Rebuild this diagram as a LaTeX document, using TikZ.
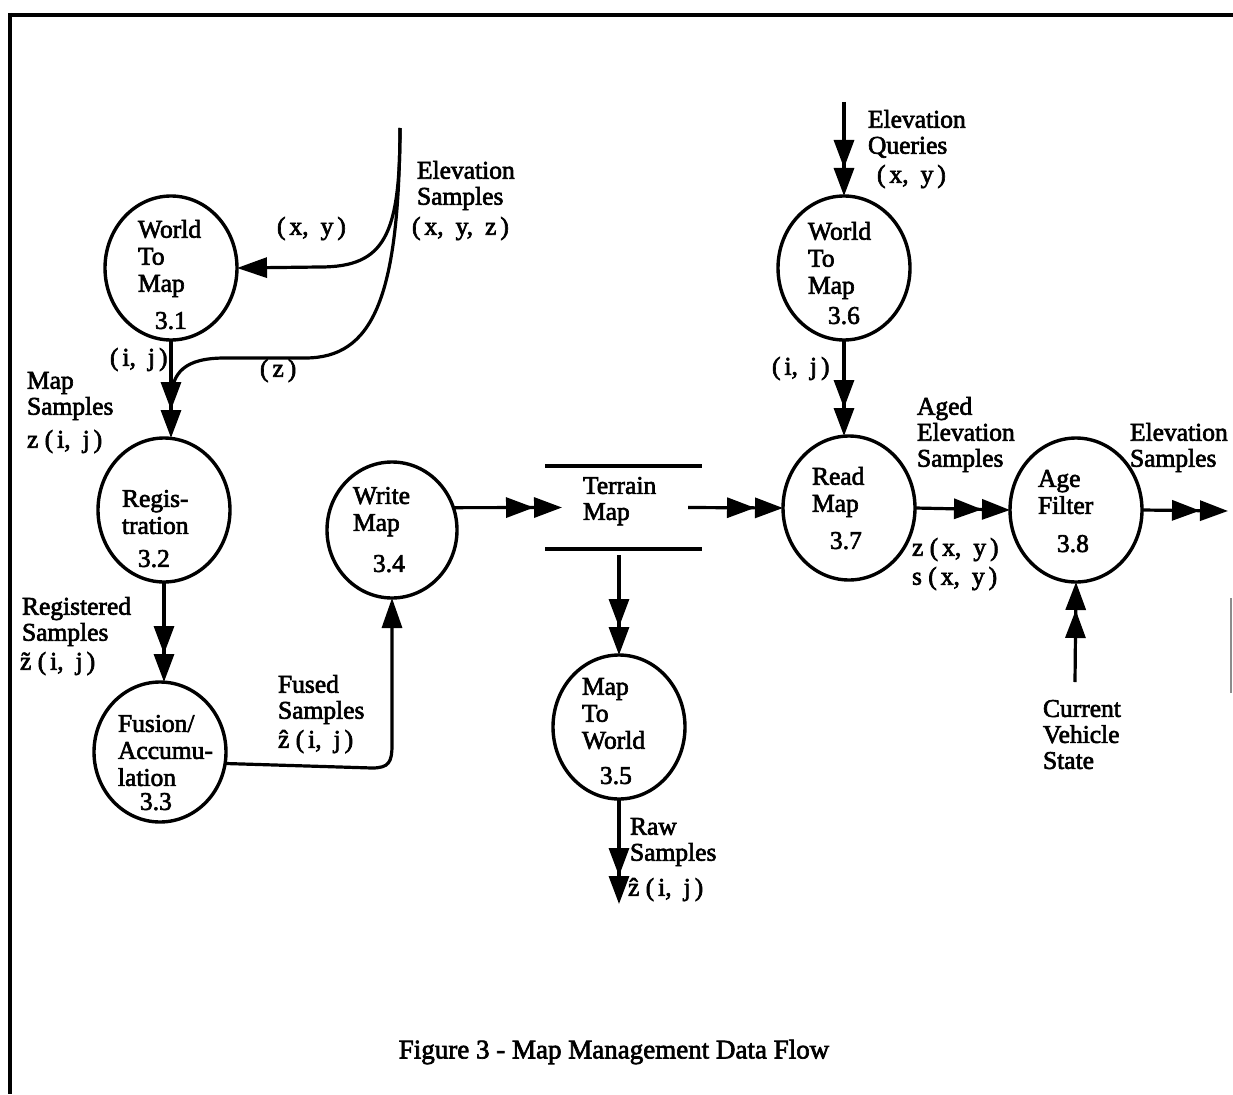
\documentclass[tikz,border=0pt]{standalone}
\usepackage{fontspec}
\setmainfont{Liberation Serif}
\newfontfamily\scan{Liberation Serif}[FakeBold=2.5]
\usetikzlibrary{arrows.meta,shapes.geometric,calc}
\newcommand{\myL}{(\kern4pt}
\newcommand{\myR}{\kern4pt)}
\newcommand{\myC}{,\kern12pt}
\begin{document}
\begin{tikzpicture}[x=1pt,y=-1pt,
  every node/.style={inner sep=0pt,outer sep=0pt},
  lbl/.style={font=\scan\fontsize{25.5}{26}\selectfont, align=left, anchor=north west},
  ctxt/.style={font=\scan\fontsize{25.5}{27}\selectfont, align=left, anchor=north west},
  proc/.style={draw, ellipse, line width=3.4pt, minimum width=132pt, minimum height=144pt},
  con/.style={line width=3.2pt},
  frame/.style={line width=4.5pt},
  sgl/.style={con,-{Triangle[length=30pt,width=20pt]}},
  dbl/.style={con,-{Triangle[length=28pt,width=20pt]Triangle[length=28pt,width=20pt]}},
]
\useasboundingbox (0,0) rectangle (1233,1094);
% frame
\draw[frame] (8,15) -- (1233,15);
\draw[frame] (10,13) -- (10,1094);
\draw[line width=1.5pt, black!45] (1231,598) -- (1231,693);

% processes
\node[proc] (c31) at (171,268) {};
\node[proc] (c32) at (164,510) {};
\node[proc, minimum height=140pt] (c33) at (160,752) {};
\node[proc, minimum width=130pt, minimum height=136pt] (c34) at (392,530) {};
\node[proc] (c35) at (619,727) {};
\node[proc] (c36) at (844,268) {};
\node[proc] (c37) at (849,508) {};
\node[proc] (c38) at (1076,510) {};

% terrain map store
\node[minimum width=126pt, minimum height=83pt] (tm) at (625,507.5) {};
\draw[con] ([xshift=-17pt]tm.north west) -- ([xshift=14pt]tm.north east);
\draw[con] ([xshift=-17pt]tm.south west) -- ([xshift=14pt]tm.south east);

% circle texts
\node[ctxt] (w31) at (138,220) {World\\To\\Map};
\node[ctxt] (n31) at (155,312) {3.1};
\node[ctxt] (w32) at (122,490) {Regis-\\tration};
\node[ctxt] (n32) at (138,550) {3.2};
\node[ctxt] (w33) at (118,715) {Fusion/\\Accumu-\\lation};
\node[ctxt] (n33) at (140,793) {3.3};
\node[ctxt] (w34) at (353,487) {Write\\Map};
\node[ctxt] (n34) at (373,555) {3.4};
\node[ctxt] (w35) at (582,678) {Map\\To\\World};
\node[ctxt] (n35) at (600,767) {3.5};
\node[ctxt] (w36) at (808,222) {World\\To\\Map};
\node[ctxt] (n36) at (828,307) {3.6};
\node[ctxt] (w37) at (812,467) {Read\\Map};
\node[ctxt] (n37) at (830,532) {3.7};
\node[ctxt] (w38) at (1038,470) {Age\\Filter};
\node[ctxt] (n38) at (1057,535) {3.8};
\node[lbl] (wtm) at (583,477) {Terrain\\Map};

% labels
\node[lbl] (tES) at (417,161) {Elevation\\Samples};
\node[lbl] (tESxyz) at (412,217) {\myL x\myC y\myC z\myR};
\node[lbl] (txy1) at (277,217) {\myL x\myC y\myR};
\node[lbl] (tz) at (260,359) {\myL z\myR};
\node[lbl] (tij1) at (110,348) {\myL i\myC j\myR};
\node[lbl] (tMS) at (27,372) {Map\\Samples};
\node[lbl] (tzij) at (27,430) {z \myL i\myC j\myR};
\node[lbl] (tRS) at (22,597) {Registered\\Samples};
\node[lbl] (tzt) at (20,652) {\~{z} \myL i\myC j\myR};
\node[lbl] (tFS) at (278,675) {Fused\\Samples};
\node[lbl] (tzh1) at (278,730) {\^{z} \myL i\myC j\myR};
\node[lbl] (tRaw) at (630,818) {Raw\\Samples};
\node[lbl] (tzh2) at (628,878) {\^{z} \myL i\myC j\myR};
\node[lbl] (tEQ) at (868,110) {Elevation\\Queries};
\node[lbl] (txy2) at (877,165) {\myL x\myC y\myR};
\node[lbl] (tij2) at (772,357) {\myL i\myC j\myR};
\node[lbl] (tAES) at (917,397) {Aged\\Elevation\\Samples};
\node[lbl] (tzs) at (912,538) {z \myL x\myC y\myR\\[3pt]s \myL x\myC y\myR};
\node[lbl] (tES2) at (1130,423) {Elevation\\Samples};
\node[lbl] (tCVS) at (1043,700) {Current\\Vehicle\\State};
\node[font=\scan\fontsize{27}{30}\selectfont] (cap) at (614,1052) {Figure 3 - Map Management Data Flow};

% free ends
\coordinate (esrc) at (400,128);
\coordinate (merge) at (171,402);
\coordinate (qsrc) at (844,102);
\coordinate (rawend) at (619,904);
\coordinate (outend) at (1228,511);
\coordinate (vsrc) at (1075,682);

% connectors
\draw[sgl] (esrc) .. controls (400,235) and (385,267) .. (320,267) -- (c31.east);
\draw[con] (esrc) .. controls (399,300) and (372,358) .. (305,358) -- (225,358) .. controls (185,358) and (171,372) .. (merge);
\draw[dbl] (c31.south) -- (c31.south |- c32.north);
\draw[dbl] (c32.south) -- (c32.south |- c33.north);
\draw[sgl] (c33.-10) -- (372,768) .. controls (389,768) and (392,762) .. (392,745) -- (c34.south);
\draw[dbl] (c34.20) -- (tm.west);
\draw[dbl] (tm.east) -- (c37.west);
\draw[dbl] ($(tm.south -| c35.north)+(0,6)$) -- (c35.north);
\draw[dbl] (c35.south) -- (rawend);
\draw[dbl] (qsrc) -- (c36.north);
\draw[dbl] (c36.south) -- (c36.south |- c37.north);
\draw[dbl] (c37.east) -- (c38.west);
\draw[dbl] (c38.east) -- (outend);
\draw[dbl] (vsrc) -- (c38.south);
\end{tikzpicture}
\end{document}
